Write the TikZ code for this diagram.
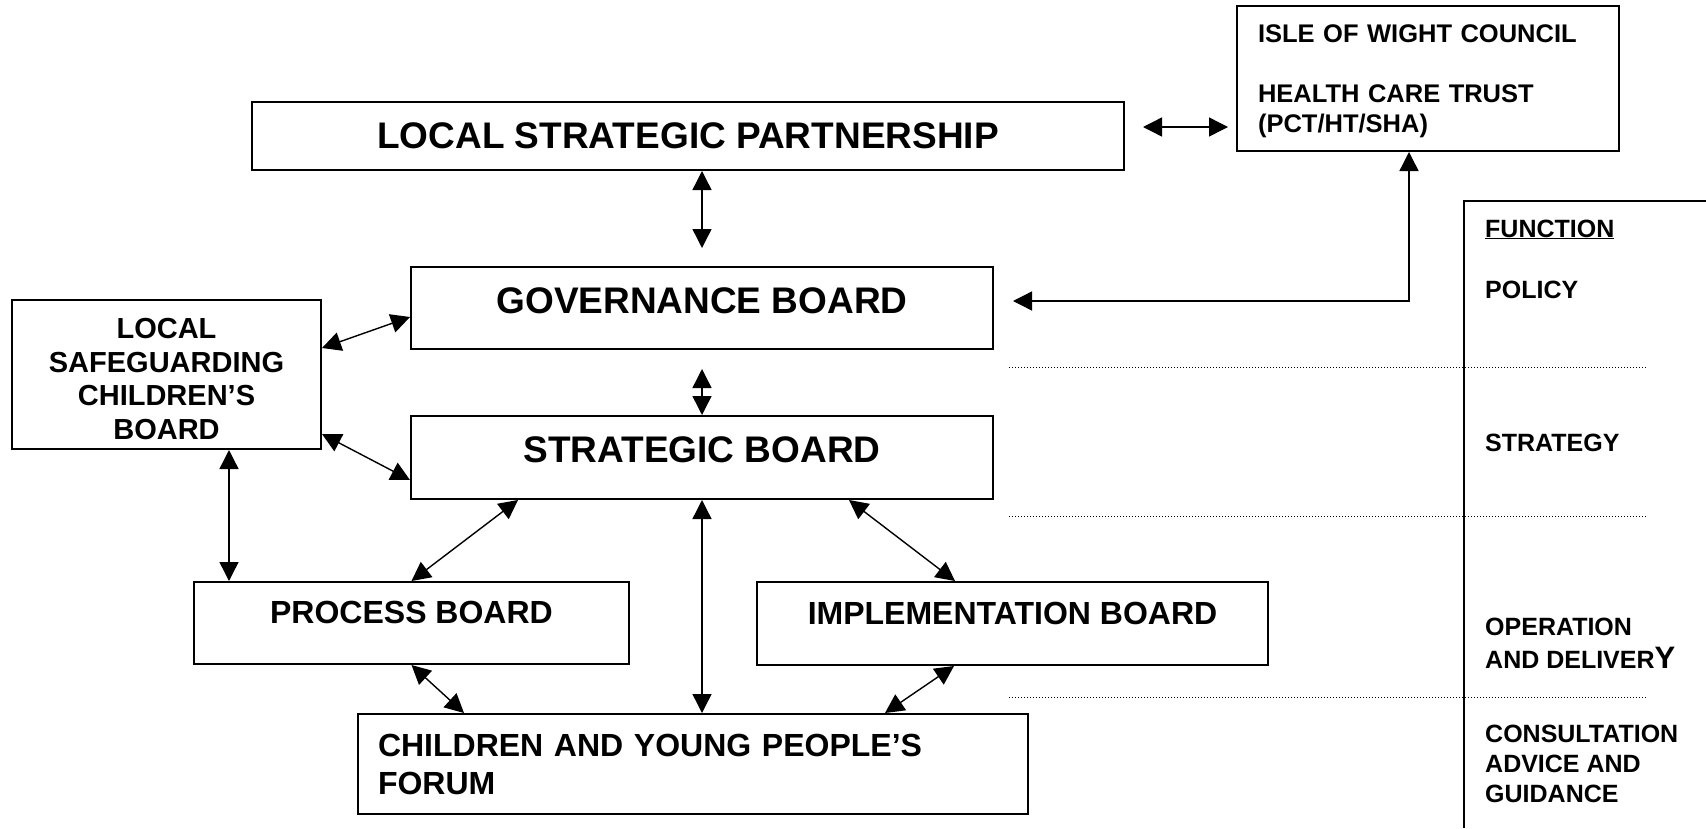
\documentclass[tikz,border=0pt]{standalone}
\usepackage{fontspec}
\setmainfont{Liberation Sans}
\usetikzlibrary{arrows.meta,calc}
\newcommand\fbig{\fontsize{37}{44}\selectfont\bfseries}
\newcommand\fmed{\fontsize{32}{38}\selectfont\bfseries}
\newcommand\flscb{\fontsize{29}{33.5}\selectfont\bfseries}
\newcommand\fisle{\fontsize{25.5}{30}\selectfont\bfseries}
\newcommand\ffn{\fontsize{25}{30}\selectfont\bfseries}
\newcommand\ffnop{\fontsize{25}{33}\selectfont\bfseries}
\begin{document}
\begin{tikzpicture}[x=1pt,y=-1pt,
  box/.style={draw, line width=2pt, rectangle, inner sep=0pt},
  dbl/.style={line width=1.4pt, {Triangle[length=19pt,width=19pt]}-{Triangle[length=19pt,width=19pt]}},
  sepline/.style={line width=1pt, dash pattern=on 1pt off 2pt},
  fnlabel/.style={anchor=base west, inner sep=0pt, align=left, font=\ffn}
]
\useasboundingbox (0,0) rectangle (1706,828);

% boxes
\node[box, minimum width=872pt, minimum height=68pt, font=\fbig] (lsp) at (688,136) {LOCAL STRATEGIC PARTNERSHIP};
\node[box, minimum width=382pt, minimum height=145pt, inner xsep=21pt, text width=340pt, align=left, text height=24pt, font=\fisle] (isle) at (1428,78.5)
  {ISLE OF WIGHT COUNCIL\\[30pt]HEALTH CARE TRUST\\(PCT/HT/SHA)};
\node[box, minimum width=582pt, minimum height=82pt, text depth=14pt, font=\fbig] (gov) at (702,308) {GOVERNANCE BOARD};
\node[box, minimum width=582pt, minimum height=83pt, text depth=16pt, font=\fbig] (strat) at (702,457.5) {STRATEGIC BOARD};
\node[box, minimum width=309pt, minimum height=149pt, align=center, text height=130pt, font=\flscb] (lscb) at (166.5,374.5)
  {LOCAL\\SAFEGUARDING\\CHILDREN’S\\BOARD};
\node[box, minimum width=435pt, minimum height=82pt, text depth=22pt, font=\fmed] (proc) at (411.5,623) {PROCESS BOARD};
\node[box, minimum width=511pt, minimum height=83pt, text depth=21pt, font=\fmed] (impl) at (1012.5,623.5) {IMPLEMENTATION BOARD};
\node[box, minimum width=670pt, minimum height=100pt, inner xsep=20pt, text width=630pt, align=left, font=\fmed] (cyp) at (693,764)
  {CHILDREN AND YOUNG PEOPLE’S\\FORUM};

% function column
\draw[line width=2pt] (1706,201) -- (1464,201) -- (1464,828);
\node[fnlabel] (fn) at (1485,237) {\underline{FUNCTION}};
\node[fnlabel] (policy) at (1485,298) {POLICY};
\node[fnlabel] (strategy) at (1485,451) {STRATEGY};
\node[fnlabel, font=\ffnop] (oper) at (1485,668) {OPERATION\\AND DELIVER{\fontsize{31}{33}\selectfont Y}};
\node[fnlabel] (consult) at (1485,802) {CONSULTATION\\ADVICE AND\\GUIDANCE};

% dotted separators
\draw[sepline] (1009,367) -- (1646,367);
\draw[sepline] (1009,516) -- (1646,516);
\draw[sepline] (1009,697) -- (1646,697);

% connectors
\coordinate (p1) at ([xshift=18pt,yshift=9pt]lsp.east);
\draw[dbl] (p1) -- ([xshift=-8pt]p1 -| isle.west);
\draw[dbl] (gov.north |- lsp.south) -- ([yshift=18pt]gov.north);
\draw[dbl] ([yshift=-19pt]gov.south) -- (strat.north);
\draw[dbl] ([xshift=19pt,yshift=7pt]gov.east) -| ([xshift=-19pt]isle.south);
\draw[dbl] ([yshift=-49pt]lscb.north east) -- ([yshift=-9pt]gov.west);
\draw[dbl] ([yshift=16pt]lscb.south east) -- ([yshift=-22.5pt]strat.west);
\draw[dbl] ([xshift=36pt]proc.north west |- lscb.south) -- ([xshift=36pt]proc.north west);
\draw[dbl] ([xshift=108pt]strat.south west) -- (proc.north);
\draw[dbl] (strat.south) -- (strat.south |- cyp.north);
\draw[dbl] ([xshift=-145pt]strat.south east) -- ([xshift=-57.5pt]impl.north);
\draw[dbl] (proc.south) -- ([xshift=107pt]cyp.north west);
\draw[dbl] ([xshift=-58.5pt]impl.south) -- ([xshift=-144pt]cyp.north east);
\end{tikzpicture}
\end{document}
